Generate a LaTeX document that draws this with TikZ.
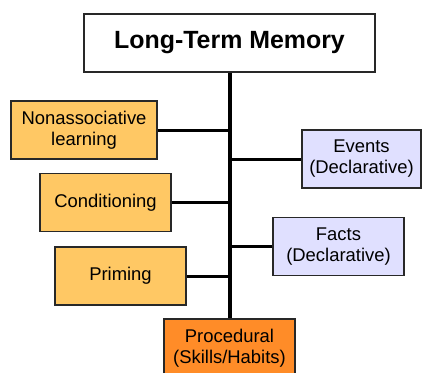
\documentclass[tikz,border=0pt]{standalone}
\usepackage{fontspec}
\setmainfont{Liberation Sans}
\usepackage{xcolor}
\usepackage{tikz}
\usetikzlibrary{positioning}

\definecolor{implicitfill}{RGB}{255,200,100}
\definecolor{explicitfill}{RGB}{224,224,255}
\definecolor{procfill}{RGB}{255,140,40}
\definecolor{boxline}{RGB}{40,40,40}

\begin{document}
\begin{tikzpicture}[
    x=1bp, y=-1bp,
    memory/.style={rectangle, draw=boxline, line width=1.4bp, align=center,
      inner sep=0pt, minimum height=58bp, font=\fontsize{18.5}{21}\selectfont},
    title/.style={memory, fill=white, minimum width=291bp,
      font=\fontsize{25}{28}\selectfont\bfseries},
    implicit/.style={memory, fill=implicitfill},
    explicit/.style={memory, fill=explicitfill},
    skill/.style={memory, fill=procfill},
    trunk/.style={line width=4bp},
    branch/.style={line width=3bp}
  ]
    \useasboundingbox (0,0) rectangle (423,373);

    % Root
    \node[title] (ltm) at (229.5,43) {Long-Term Memory};

    % Left side
    \node[implicit, minimum width=146bp] (nonassoc) at (84,130) {Nonassociative\\learning};
    \node[implicit, minimum width=131bp] (cond) at (105.5,202.5) {Conditioning};
    \node[implicit, minimum width=131bp] (priming) at (120.5,276) {Priming};

    % Right side
    \node[explicit, minimum width=119bp] (events) at (361.5,159) {Events\\(Declarative)};
    \node[explicit, minimum width=131bp] (facts) at (338.5,246.5) {Facts\\(Declarative)};

    % Bottom
    \node[skill, minimum width=131bp] (proc) at (229.5,348) {Procedural\\(Skills/Habits)};

    % Connectors
    \draw[branch] (nonassoc.east) -- (nonassoc.east -| ltm.south);
    \draw[branch] (cond.east) -- (cond.east -| ltm.south);
    \draw[branch] (priming.east) -- (priming.east -| ltm.south);
    \draw[branch] (events.west) -- (events.west -| ltm.south);
    \draw[branch] (facts.west) -- (facts.west -| ltm.south);
    \draw[trunk] (ltm.south) -- (proc.north);
  \end{tikzpicture}
\end{document}
